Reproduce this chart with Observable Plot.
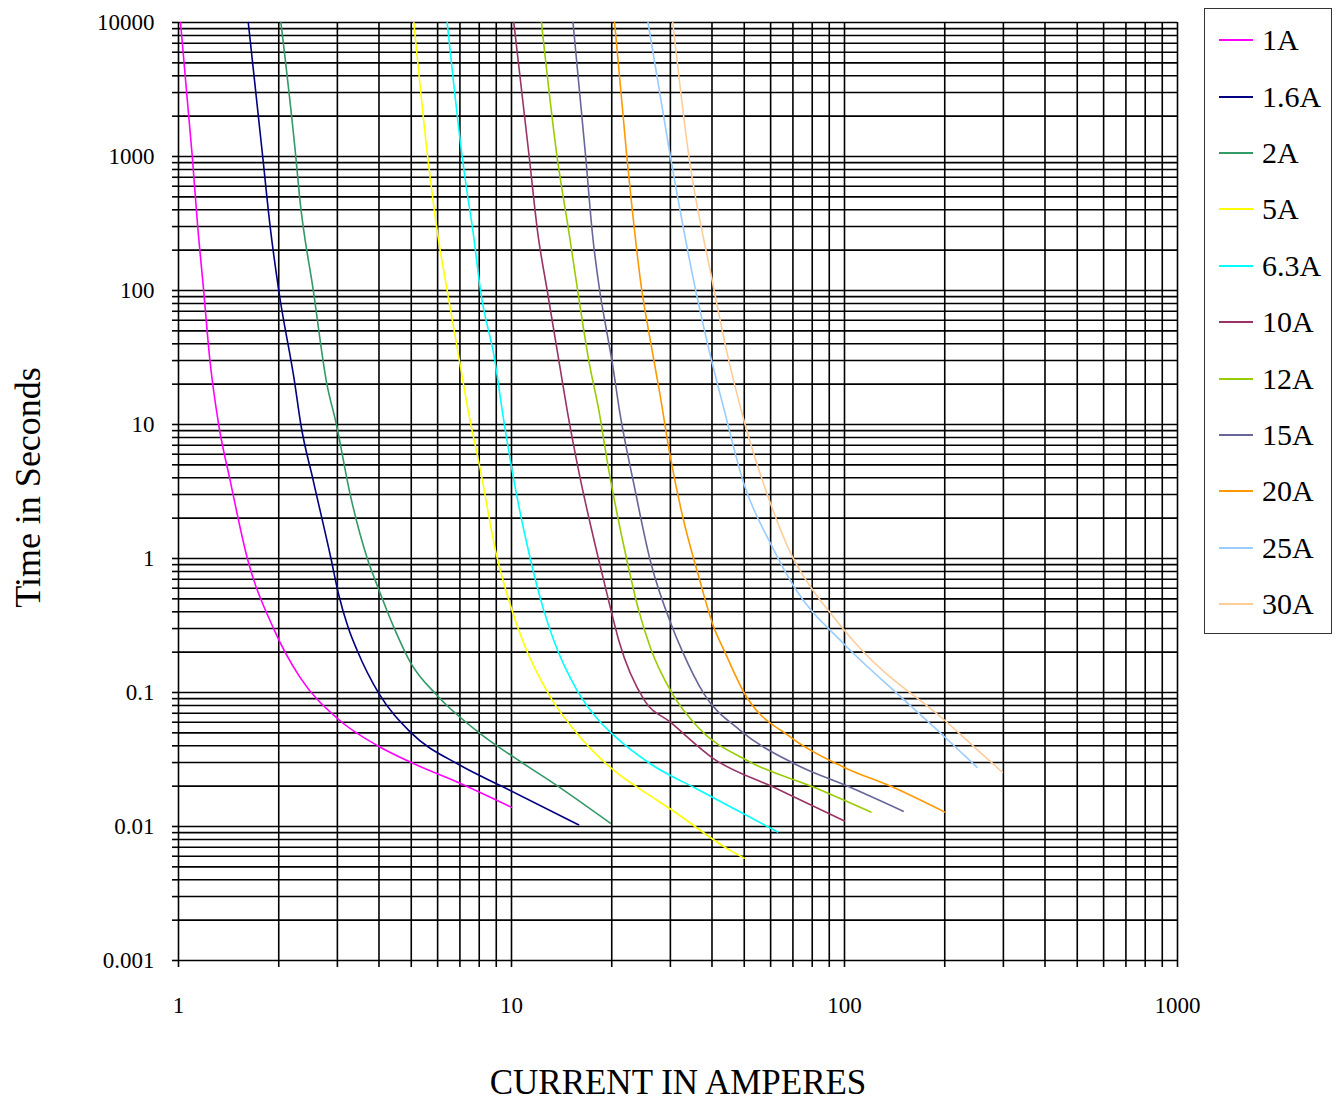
<!DOCTYPE html>
<html>
<head>
<meta charset="utf-8">
<script src="https://cdn.jsdelivr.net/npm/d3@7"></script>
<script src="https://cdn.jsdelivr.net/npm/@observablehq/plot@0.6"></script>
<style>
  body { margin: 0; background: #fff; font-family: "Liberation Serif", "Times New Roman", serif; }
  #wrap { position: relative; width: 1337px; height: 1101px; }
  #legend { position: absolute; left: 1204px; top: 8px; width: 128px; height: 626px; border: 1.5px solid #333;
            box-sizing: border-box; padding-top: 3px; background: #fff; }
  .row { height: 56.4px; display: flex; align-items: center; }
  .row svg { margin-left: 14px; margin-right: 9px; display: block; }
  .lab { font-size: 30px; color: #000; line-height: 1; }
</style>
</head>
<body>
<div id="wrap"><div id="chart"></div><div id="legend"></div></div>
<script>
// ---- Data ----
const seriesNames  = ["1A", "1.6A", "2A", "5A", "6.3A", "10A", "12A", "15A", "20A", "25A", "30A"];
const seriesColors = ["#ff00ff", "#000080", "#339966", "#ffff00", "#00ffff", "#993366",
                      "#99cc00", "#666699", "#ff9900", "#99ccff", "#ffcc99"];

const current_1A = [1.014, 1.10, 1.14, 1.19, 1.24, 1.32, 1.43, 1.61, 1.93, 2.32, 3.0, 4.0, 5.0, 7.0, 10];
const time_1A    = [10000, 1000, 316, 100, 31.6, 10, 3.8, 1.0, 0.30, 0.129, 0.064, 0.0395, 0.030, 0.021, 0.0139];

const current_1_6A = [1.62, 1.79, 1.88, 2.0, 2.23, 2.33, 2.54, 2.87, 3.02, 3.24, 3.44, 4.0, 4.97, 7.03, 9.26, 15.9];
const time_1_6A    = [10000, 1000, 316, 100, 21, 10, 3.8, 1.0, 0.55, 0.30, 0.206, 0.098, 0.0506, 0.0285, 0.0202, 0.0103];

const current_2A = [2.03, 2.25, 2.31, 2.54, 2.78, 2.98, 3.26, 3.69, 3.97, 4.45, 4.97, 5.98, 8.07, 10.16, 13.7, 19.8];
const time_2A    = [10000, 1000, 500, 100, 21, 10, 3.2, 1.0, 0.61, 0.30, 0.168, 0.095, 0.0492, 0.0329, 0.0202, 0.0106];

const current_5A = [5.09, 5.6, 6.0, 6.41, 6.99, 7.41, 8.07, 9.0, 10.04, 10.8, 13.1, 15.76, 20.3, 25.6, 30.0, 45.5, 50];
const time_5A    = [10000, 1000, 265, 100, 29.2, 12.7, 4.54, 1.08, 0.41, 0.244, 0.092, 0.0492, 0.0262, 0.0175, 0.0135, 0.0066, 0.0058];

const current_6_3A = [6.41, 7.11, 7.27, 7.68, 8.07, 8.93, 9.38, 10.04, 11.3, 12.5, 13.4, 15.76, 18.5, 20.3, 26.1, 36.9, 49.9, 63];
const time_6_3A    = [10000, 1000, 662, 265, 100, 29.2, 12.7, 4.54, 1.08, 0.41, 0.244, 0.103, 0.06, 0.0478, 0.0294, 0.0185, 0.0124, 0.0091];

const current_10A = [10.16, 11.3, 12.0, 12.8, 13.9, 14.7, 15.9, 18.1, 19.9, 21.0, 25.1, 30.0, 40.5, 61.3, 100];
const time_10A    = [10000, 1000, 265, 100, 29.2, 12.7, 4.54, 1.08, 0.41, 0.244, 0.087, 0.060, 0.032, 0.0196, 0.011];

const current_12A = [12.3, 13.7, 14.9, 15.8, 17.1, 18.3, 19.6, 22.0, 24.1, 26.1, 30.4, 36.3, 51.1, 81.0, 120];
const time_12A    = [10000, 1000, 265, 100, 29.2, 12.7, 4.54, 1.08, 0.41, 0.218, 0.098, 0.055, 0.031, 0.0196, 0.0128];

const current_15A = [15.3, 16.7, 17.5, 18.4, 19.3, 20.1, 21.1, 23.3, 26.1, 30.4, 32.5, 37.8, 48.7, 70.7, 104, 150];
const time_15A    = [10000, 1000, 265, 100, 50.2, 28.4, 12.7, 3.6, 0.966, 0.307, 0.206, 0.098, 0.052, 0.0294, 0.0196, 0.013];

const current_20A = [20.4, 22.2, 24.7, 25.8, 27.9, 30.0, 32.7, 36.3, 40.5, 43.5, 49.9, 69.2, 99.5, 140, 200];
const time_20A    = [10000, 1000, 95, 50.2, 16.9, 5.7, 2.03, 0.769, 0.307, 0.206, 0.1, 0.046, 0.0277, 0.0196, 0.0128];

const current_25A = [25.7, 30.0, 35.9, 39.0, 43.3, 49.9, 60.0, 70.7, 99.5, 144, 203, 250];
const time_25A    = [10000, 1000, 95, 37.8, 13.5, 3.6, 1.29, 0.61, 0.231, 0.098, 0.045, 0.0277];

const current_30A = [30.5, 34.1, 39.9, 44.0, 49.9, 60.0, 69.9, 79.2, 92.8, 111.7, 203, 246, 298];
const time_30A    = [10000, 1000, 125, 37.8, 10.7, 2.56, 1.02, 0.61, 0.365, 0.212, 0.060, 0.039, 0.0254];

const seriesCurrents = [current_1A, current_1_6A, current_2A, current_5A, current_6_3A, current_10A,
                        current_12A, current_15A, current_20A, current_25A, current_30A];
const seriesTimes    = [time_1A, time_1_6A, time_2A, time_5A, time_6_3A, time_10A,
                        time_12A, time_15A, time_20A, time_25A, time_30A];

// Axis ticks / labels
const xDecades = [1, 10, 100, 1000];
const xTickLabels = ["1", "10", "100", "1000"];
const yDecades = [0.001, 0.01, 0.1, 1, 10, 100, 1000, 10000];
const yTickLabels = ["0.001", "0.01", "0.1", "1", "10", "100", "1000", "10000"];
const minorMultipliers = [1, 2, 3, 4, 5, 6, 7, 8, 9];
const xTitle = "CURRENT IN AMPERES";
const yTitle = "Time in Seconds";

// ---- Build table & grids ----
const rows = [];
seriesNames.forEach((name, k) => {
  seriesCurrents[k].forEach((c, j) => rows.push({series: name, current: c, time: seriesTimes[k][j]}));
});
const gridFrom = (decades) => {
  const out = [];
  decades.slice(0, -1).forEach(d => minorMultipliers.forEach(m => out.push(+(m * d).toPrecision(6))));
  out.push(decades[decades.length - 1]);
  return out;
};
const xGrid = gridFrom(xDecades);
const yGrid = gridFrom(yDecades);
const labelOf = (decades, labels) => (d) => {
  const i = decades.findIndex(v => Math.abs(Math.log10(v) - Math.log10(d)) < 1e-9);
  return i >= 0 ? labels[i] : "";
};

const FONT = '"Liberation Serif", "Times New Roman", serif';

const chart = Plot.plot({
  width: 1337,
  height: 1101,
  marginLeft: 178,
  marginRight: 160,
  marginTop: 22,
  marginBottom: 141,
  style: {fontFamily: FONT, background: "#fff", color: "#000"},
  x: {type: "log", domain: [1, 1000]},
  y: {type: "log", domain: [0.001, 10000]},
  color: {domain: seriesNames, range: seriesColors},
  marks: [
    Plot.gridX(xGrid, {stroke: "#000", strokeOpacity: 1, strokeWidth: 1.6}),
    Plot.gridY(yGrid, {stroke: "#000", strokeOpacity: 1, strokeWidth: 1.6}),
    Plot.axisX({ticks: xGrid, tickSize: 7, tickPadding: 29, strokeWidth: 1.6, fontSize: 23,
                tickFormat: labelOf(xDecades, xTickLabels), label: null}),
    Plot.axisY({ticks: yGrid, tickSize: 6, tickPadding: 18, strokeWidth: 1.6, fontSize: 23,
                tickFormat: labelOf(yDecades, yTickLabels), label: null}),
    Plot.line(rows, {x: "current", y: "time", z: "series", stroke: "series", strokeWidth: 1.6,
                     curve: "monotone-x"}),
    Plot.text([xTitle], {frameAnchor: "bottom", dy: 122, lineAnchor: "middle", textAnchor: "middle",
                         fontSize: 35, fill: "#000"}),
    Plot.text([yTitle], {frameAnchor: "left", dx: -150, dy: -4, rotate: -90, textAnchor: "middle",
                         lineAnchor: "middle", fontSize: 36, fill: "#000"})
  ]
});
document.getElementById("chart").appendChild(chart);

// ---- Legend ----
const legend = document.getElementById("legend");
const NS = "http://www.w3.org/2000/svg";
seriesNames.forEach((name, k) => {
  const row = document.createElement("div");
  row.className = "row";
  const sw = document.createElementNS(NS, "svg");
  sw.setAttribute("width", "34");
  sw.setAttribute("height", "6");
  const ln = document.createElementNS(NS, "line");
  ln.setAttribute("x1", "0"); ln.setAttribute("x2", "34");
  ln.setAttribute("y1", "3"); ln.setAttribute("y2", "3");
  ln.setAttribute("stroke", seriesColors[k]);
  ln.setAttribute("stroke-width", "1.8");
  sw.appendChild(ln);
  const lab = document.createElement("span");
  lab.className = "lab";
  lab.textContent = name;
  row.appendChild(sw);
  row.appendChild(lab);
  legend.appendChild(row);
});
</script>
</body>
</html>
